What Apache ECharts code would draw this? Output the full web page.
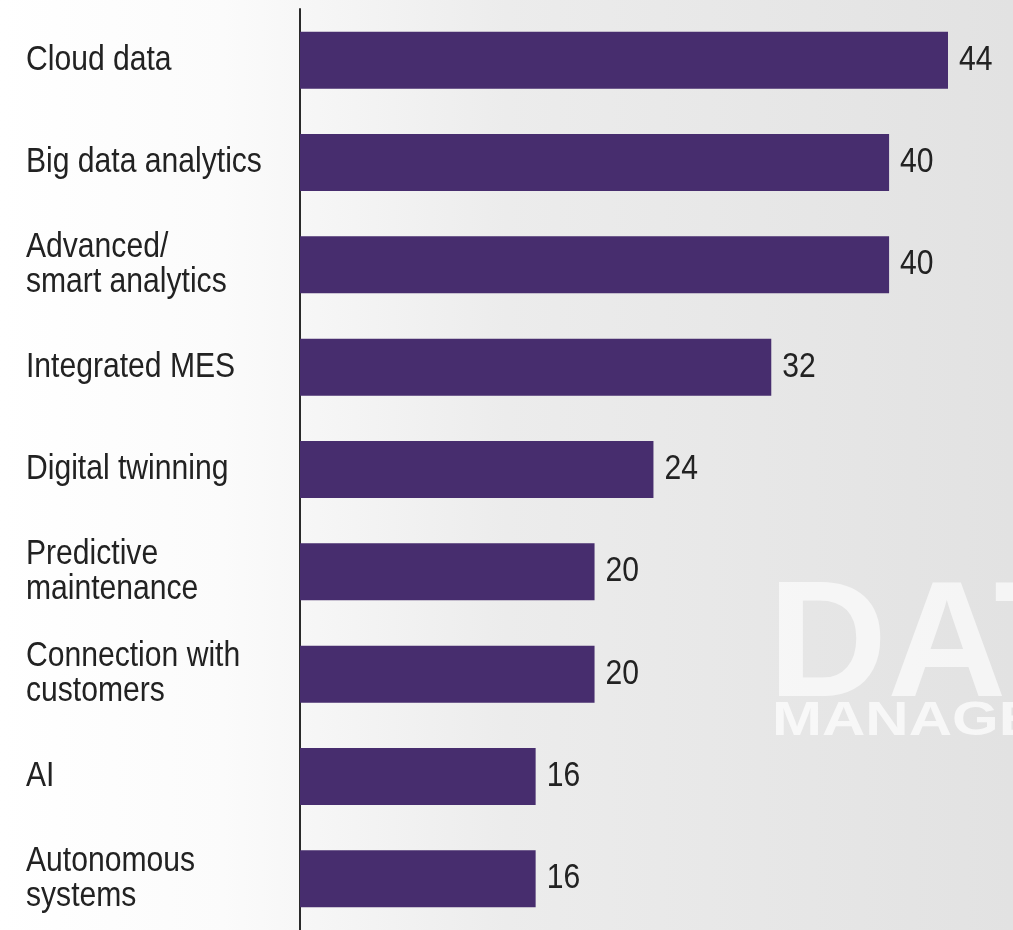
<!DOCTYPE html>
<html>
<head>
<meta charset="utf-8">
<script src="https://cdn.jsdelivr.net/npm/echarts@6/dist/echarts.min.js"></script>
<style>
  html, body { margin: 0; padding: 0; }
  #chart { width: 1013px; height: 930px; }
</style>
</head>
<body>
<div id="chart"></div>
<script>
// Share of respondents by technology (values as printed)
const categories = [
  'Cloud data',
  'Big data analytics',
  'Advanced/\nsmart analytics',
  'Integrated MES',
  'Digital twinning',
  'Predictive\nmaintenance',
  'Connection with\ncustomers',
  'AI',
  'Autonomous\nsystems'
];
const values = [44, 40, 40, 32, 24, 20, 20, 16, 16];

// the source uses a condensed face; squeeze a regular one instead
const FONT = '35px "Liberation Sans", Arial, sans-serif';
const SQUEEZE = 0.86;
const INK = '#222222';
const BAR = '#472d6e';

function catLabel(params, api){
  const idx = api.value(1);
  const p = api.coord([0, idx]);
  return {
    type: 'text',
    x: 26,
    y: p[1],
    scaleX: SQUEEZE,
    style: {
      text: categories[idx],
      font: FONT,
      fill: INK,
      verticalAlign: 'middle',
      lineHeight: 35
    }
  };
}

function valueLabel(params, api){
  const p = api.coord([api.value(0), api.value(1)]);
  return {
    type: 'text',
    x: p[0] + 11,
    y: p[1],
    scaleX: SQUEEZE,
    style: {
      text: String(api.value(0)),
      font: FONT,
      fill: INK,
      verticalAlign: 'middle'
    }
  };
}

const chart = echarts.init(document.getElementById('chart'));
chart.setOption({
  backgroundColor: {
    type: 'linear', x: 0, y: 0, x2: 1, y2: 0,
    colorStops: [
      { offset: 0, color: '#ffffff' },
      { offset: 0.22, color: '#fbfbfb' },
      { offset: 0.5, color: '#ececec' },
      { offset: 1, color: '#e2e2e2' }
    ]
  },
  animation: false,
  // faint backdrop lettering like the photo behind the chart
  graphic: [
    {
      type: 'text', left: 768, top: 568, silent: true, z: -1,
      style: { text: 'DAT', font: 'bold 165px "Liberation Sans", Arial, sans-serif', fill: 'rgba(255,255,255,0.65)' }
    },
    {
      type: 'text', left: 772, top: 698, silent: true, z: -1, scaleX: 1.25,
      style: { text: 'MANAGEMENT', font: 'bold 48px "Liberation Sans", Arial, sans-serif', fill: 'rgba(255,255,255,0.7)' }
    }
  ],
  grid: { left: 300, right: 65, top: 9, bottom: 0, containLabel: false },
  xAxis: {
    type: 'value',
    min: 0,
    max: 44,
    show: false
  },
  yAxis: {
    type: 'category',
    data: categories,
    inverse: true,
    axisLine: { show: true, lineStyle: { color: '#2a2a2a', width: 2 } },
    axisTick: { show: false },
    splitLine: { show: false },
    axisLabel: { show: false }
  },
  series: [
    {
      type: 'bar',
      data: values,
      barWidth: 57,
      itemStyle: { color: BAR }
    },
    {
      type: 'custom',
      name: 'categories',
      silent: true,
      clip: false,
      renderItem: catLabel,
      encode: { x: 0, y: 1 },
      data: categories.map((c, i) => [0, i])
    },
    {
      type: 'custom',
      name: 'values',
      silent: true,
      clip: false,
      renderItem: valueLabel,
      encode: { x: 0, y: 1 },
      data: values.map((v, i) => [v, i])
    }
  ]
});
</script>
</body>
</html>
